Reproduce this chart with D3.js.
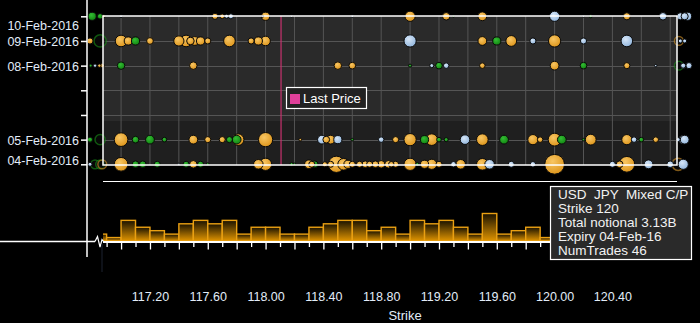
<!DOCTYPE html>
<html><head><meta charset="utf-8">
<script src="https://cdn.jsdelivr.net/npm/d3@7"></script>
<style>
html,body{margin:0;padding:0;background:#000;overflow:hidden}
svg{display:block}
text{font-family:"Liberation Sans",Arial,sans-serif}
</style>
</head><body>
<svg id="chart" width="700" height="323"></svg>
<script>
// ---------------- DATA ----------------
const tradeDates = ['2016-02-04','2016-02-05','2016-02-08','2016-02-09','2016-02-10'];
const strikeLabels = [117.2,117.6,118.0,118.4,118.8,119.2,119.6,120.0,120.4];
const lastPrice = 118.107;

// histogram: number of trades per 0.1 strike bucket (bucket start)
const histStrikes = [116.8,116.9,117.0,117.1,117.2,117.3,117.4,117.5,117.6,117.7,117.8,117.9,
  118.0,118.1,118.2,118.3,118.4,118.5,118.6,118.7,118.8,118.9,119.0,119.1,119.2,119.3,119.4,
  119.5,119.6,119.7,119.8,119.9];
const histCounts = [2,1,6,4,3,2,5,6,5,6,2,4,4,2,2,4,5,6,6,3,4,2,6,5,6,4,2,8,2,3,4,1];

// bubbles: [strike, total notional (USD m), type]  M = mixed C/P, C = call, P = put
const feb10 = [[116.80,532,'C'],[116.855,243,'C'],[116.88,75,'M'],[117.00,56,'P'],[117.65,300,'M'],
  [117.70,176,'M'],[117.73,133,'P'],[117.76,208,'P'],[117.98,33,'P'],[118.00,532,'M'],[118.18,33,'P'],
  [118.60,48,'P'],[119.00,832,'M'],[119.25,455,'M'],[119.30,33,'C'],[119.50,615,'M'],[120.00,832,'P'],
  [120.20,33,'P'],[120.25,75,'C'],[120.50,408,'M'],[120.75,455,'P'],[120.87,408,'P'],[120.90,408,'P'],
  [120.92,532,'P']];
const feb09 = [[116.785,300,'M'],[116.855,1198,'C'],[117.00,1081,'M'],[117.05,532,'M'],[117.10,532,'C'],
  [117.20,362,'M'],[117.40,832,'M'],[117.45,1081,'M'],[117.48,455,'M'],[117.51,615,'M'],[117.55,532,'M'],
  [117.60,300,'M'],[117.75,1081,'M'],[117.90,300,'M'],[117.95,532,'M'],[118.00,735,'M'],[119.00,1198,'P'],
  [119.50,615,'M'],[119.60,532,'C'],[119.70,935,'M'],[119.85,300,'P'],[120.00,1198,'M'],[120.20,300,'P'],
  [120.50,1081,'P'],[120.86,620,'M'],[120.87,133,'P'],[120.90,133,'P']];
const feb08 = [[116.79,75,'C'],[116.82,96,'P'],[116.85,96,'M'],[116.87,133,'M'],[117.00,455,'C'],
  [117.50,455,'M'],[118.50,455,'M'],[118.60,362,'M'],[119.00,75,'C'],[119.15,133,'P'],[119.20,362,'C'],
  [119.25,243,'P'],[119.50,243,'M'],[120.00,615,'M'],[120.20,362,'C'],[120.50,300,'M'],[120.70,48,'P'],
  [120.86,620,'C'],[120.89,208,'P'],[120.93,300,'P']];
const feb05 = [[116.785,208,'C'],[116.855,832,'C'],[117.00,1493,'M'],[117.10,362,'C'],[117.20,615,'C'],
  [117.30,176,'C'],[117.50,615,'M'],[117.60,300,'M'],[117.70,300,'M'],[117.75,300,'C'],[117.81,1081,'M'],
  [117.80,615,'C'],[118.00,1630,'M'],[118.24,56,'M'],[118.39,615,'P'],[118.42,362,'M'],[118.45,615,'M'],
  [118.50,532,'P'],[118.60,56,'C'],[118.80,243,'P'],[118.90,300,'M'],[119.00,1198,'M'],[119.10,532,'C'],
  [119.15,1081,'M'],[119.20,176,'C'],[119.25,133,'C'],[119.38,735,'P'],[119.50,1081,'M'],[119.65,615,'C'],
  [119.85,832,'M'],[119.90,243,'M'],[120.00,1320,'M'],[120.05,615,'C'],[120.20,56,'C'],[120.25,935,'M'],
  [120.50,832,'M'],[120.55,243,'P'],[120.60,176,'C'],[120.70,243,'M'],[120.855,133,'P'],[120.89,620,'P'],
  [120.90,620,'P']];
const feb04 = [[116.785,133,'P'],[116.82,620,'C'],[116.855,620,'C'],[116.87,620,'M'],[117.00,1493,'M'],
  [117.10,362,'C'],[117.15,362,'C'],[117.25,300,'C'],[117.40,48,'P'],[117.45,300,'C'],[117.50,455,'M'],
  [117.55,300,'C'],[117.60,75,'C'],[117.95,735,'M'],[118.00,1198,'M'],[118.18,96,'C'],[118.20,56,'C'],
  [118.30,615,'M'],[118.32,300,'M'],[118.34,362,'C'],[118.41,208,'M'],[118.45,300,'M'],[118.49,2129,'M'],
  [118.54,1081,'M'],[118.57,532,'M'],[118.60,300,'M'],[118.65,300,'M'],[118.69,362,'M'],[118.72,300,'M'],
  [118.76,362,'M'],[118.80,455,'M'],[118.85,455,'M'],[118.87,243,'M'],[118.90,300,'M'],[119.00,1198,'M'],
  [119.05,96,'C'],[119.10,532,'M'],[119.15,832,'M'],[119.20,300,'M'],[119.30,243,'P'],[119.35,735,'M'],
  [119.50,1081,'M'],[119.55,735,'P'],[119.70,300,'P'],[119.85,243,'P'],[120.00,3130,'M'],[120.40,300,'P'],
  [120.45,362,'M'],[120.50,1973,'M'],[120.65,615,'P'],[120.80,362,'P'],[120.855,1198,'M'],[120.89,832,'P']];
const bubbleRows = [['2016-02-10',feb10],['2016-02-09',feb09],['2016-02-08',feb08],['2016-02-05',feb05],['2016-02-04',feb04]];

const tipLines = ['USD  JPY  Mixed C/P','Strike 120','Total notional 3.13B','Expiry 04-Feb-16','NumTrades 46'];

// ---------------- LAYOUT ----------------
const W = 700, H = 323;
const panel = {left:103, right:677, top:16, bottom:165};
const axisX = 87;
const histBase = 241.5;

const svg = d3.select('#chart');
const parse = d3.utcParse('%Y-%m-%d');
const fmtDate = d3.utcFormat('%d-%b-%Y');

const x = d3.scaleLinear().domain([116.875, 120.847]).range([panel.left, panel.right]);
const y = d3.scaleUtc().domain([parse('2016-02-04'), parse('2016-02-10')]).range([164.3, 16.3]);
const r = d3.scaleSqrt().domain([0, 3130]).range([0, 9.9]);
const yh = d3.scaleLinear().domain([0, 8]).range([241, 213.5]);

const colors = {M:['#f8c663','#dc9318'], C:['#34bd34','#0f820f'], P:['#d6e6f7','#8eb3db']};
const strokeCols = {M:'#e9a32c', C:'#1c9a1c', P:'#a8c8e8'};

const defs = svg.append('defs');
Object.entries(colors).forEach(([k,c]) => {
  const g = defs.append('radialGradient').attr('id','g'+k).attr('cx','40%').attr('cy','35%').attr('r','70%');
  g.append('stop').attr('offset','0%').attr('stop-color',c[0]);
  g.append('stop').attr('offset','100%').attr('stop-color',c[1]);
});
const bg = defs.append('linearGradient').attr('id','barG').attr('x1',0).attr('y1',0).attr('x2',0).attr('y2',1);
bg.append('stop').attr('offset','0%').attr('stop-color','#1a1200');
bg.append('stop').attr('offset','100%').attr('stop-color','#e09400');
defs.append('clipPath').attr('id','histClip').append('rect')
  .attr('x',panel.left).attr('y',150).attr('width',panel.right-panel.left).attr('height',100);

svg.append('rect').attr('width',W).attr('height',H).attr('fill','#000');

// panel background
svg.append('rect').attr('x',panel.left).attr('y',panel.top).attr('width',panel.right-panel.left)
  .attr('height',121-panel.top).attr('fill','#2a2a2a');
svg.append('rect').attr('x',panel.left).attr('y',121).attr('width',panel.right-panel.left)
  .attr('height',panel.bottom-121).attr('fill','#1f1f1f');

// grid
const vGrid = d3.range(0, 20).map(i => +(117 + i*0.2).toFixed(1));
svg.append('g').selectAll('line').data(vGrid).join('line')
  .attr('x1',d=>x(d)).attr('x2',d=>x(d)).attr('y1',panel.top).attr('y2',panel.bottom)
  .attr('stroke','#555').attr('stroke-width',1);
const allDays = d3.utcDay.range(parse('2016-02-04'), d3.utcDay.offset(parse('2016-02-10'),1));
svg.append('g').selectAll('line').data(allDays.slice(1,-1)).join('line')
  .attr('x1',panel.left).attr('x2',panel.right).attr('y1',d=>Math.round(y(d))+0.5).attr('y2',d=>Math.round(y(d))+0.5)
  .attr('stroke','#555').attr('stroke-width',1);

// last price line
svg.append('line').attr('x1',x(lastPrice)).attr('x2',x(lastPrice)).attr('y1',panel.top).attr('y2',panel.bottom)
  .attr('stroke','#c8326e').attr('stroke-width',1.2);

// bubbles
const bubbles = [];
bubbleRows.forEach(([d, arr]) => arr.forEach(([s,n,t]) => bubbles.push({date:parse(d), s, n, t})));
bubbles.sort((a,b) => b.n - a.n);
const outside = d => d.s < x.domain()[0] || d.s > x.domain()[1];
const ring = d => outside(d) && d.t !== 'P' && d.n >= 600;
svg.append('g').selectAll('circle').data(bubbles).join('circle')
  .attr('cx',d=>x(d.s)).attr('cy',d=>y(d.date)).attr('r',d=>r(d.n))
  .attr('fill',d=> ring(d) ? '#0c0c0c' : `url(#g${d.t})`)
  .attr('fill-opacity',d=> ring(d) ? 0.6 : 1)
  .attr('stroke',d=> ring(d) ? strokeCols[d.t] : '#0a0a0a')
  .attr('stroke-opacity',d=> ring(d) ? 0.55 : 1)
  .attr('stroke-width',d=> ring(d) ? 1.5 : 1);

// panel border (on top)
svg.append('rect').attr('x',panel.left).attr('y',panel.top).attr('width',panel.right-panel.left)
  .attr('height',panel.bottom-panel.top).attr('fill','none').attr('stroke','#fff').attr('stroke-width',1.5);

// legend
const lg = svg.append('g').attr('transform','translate(286,87)');
lg.append('rect').attr('x',0.5).attr('y',0.5).attr('width',80).attr('height',21).attr('fill','#222').attr('stroke','#fff').attr('stroke-width',1.2);
lg.append('rect').attr('x',4).attr('y',7).attr('width',10).attr('height',10).attr('fill','#e0409a');
lg.append('text').attr('x',17).attr('y',16).attr('fill','#fff').attr('font-size',13).text('Last Price');

// left axis
svg.append('line').attr('x1',axisX).attr('x2',axisX).attr('y1',0).attr('y2',257).attr('stroke','#fff').attr('stroke-width',1.5);
const trade = new Set(tradeDates);
const yAxis = d3.axisLeft(y).tickValues(allDays).tickSize(6).tickPadding(2)
  .tickFormat(d => trade.has(d3.utcFormat('%Y-%m-%d')(d)) ? fmtDate(d) : '');
const ya = svg.append('g').attr('transform',`translate(${axisX},0)`).call(yAxis);
ya.select('.domain').remove();
ya.selectAll('line').attr('stroke','#fff').attr('stroke-width',1.5);
ya.selectAll('text').attr('fill','#e2ecf8').attr('font-size',12.5)
  .attr('font-family','"Liberation Sans",Arial,sans-serif')
  .attr('dy', d => { const yy = y(d); const c = Math.max(25, Math.min(159.5, yy)); return (c - yy + 4.5) + 'px'; });

// histogram
const hg = svg.append('g').attr('clip-path','url(#histClip)');
hg.selectAll('rect').data(histStrikes.map((s,i)=>({s, n:histCounts[i]}))).join('rect')
  .attr('x',d=>x(d.s)).attr('width',d=>x(d.s+0.1)-x(d.s))
  .attr('y',d=>yh(d.n)).attr('height',d=>yh(0)-yh(d.n))
  .attr('fill','url(#barG)').attr('stroke','#eaa012').attr('stroke-width',1.4);

// top line over histogram area
svg.append('line').attr('x1',panel.left).attr('x2',panel.right).attr('y1',181.5).attr('y2',181.5).attr('stroke','#fff').attr('stroke-width',1);

// baseline + break
svg.append('line').attr('x1',0).attr('x2',95).attr('y1',histBase).attr('y2',histBase).attr('stroke','#fff').attr('stroke-width',1.3);
svg.append('path').attr('d','M95,241.5 L97.5,236.5 L100,247 L102,239.5 L103.5,241.5').attr('fill','none').attr('stroke','#fff').attr('stroke-width',1.2);
svg.append('line').attr('x1',102).attr('x2',102).attr('y1',244).attr('y2',272).attr('stroke','#1c2230').attr('stroke-width',1);
svg.append('line').attr('x1',panel.left).attr('x2',panel.right).attr('y1',histBase+0.5).attr('y2',histBase+0.5).attr('stroke','#fff').attr('stroke-width',2);

const minor = d3.range(0, 40).map(i => +(116.9 + i*0.1).toFixed(1)).filter(v => v <= 120.8);
const xa = svg.append('g').attr('transform',`translate(0,${histBase+1})`)
  .call(d3.axisBottom(x).tickValues(minor).tickSize(5).tickFormat(''));
xa.select('.domain').remove();
xa.selectAll('.tick line').attr('stroke','#fff').attr('stroke-width',1.3)
  .attr('y2', d => Math.round(d*10) % 2 === 0 ? 7 : 4.5);

const xl = svg.append('g').attr('transform','translate(0,301)')
  .call(d3.axisBottom(x).tickValues(strikeLabels).tickSize(0).tickPadding(0).tickFormat(d3.format('.2f')));
xl.select('.domain').remove();
xl.selectAll('text').attr('fill','#e2ecf8').attr('font-size',12.5).attr('dy',0)
  .attr('font-family','"Liberation Sans",Arial,sans-serif');

svg.append('text').attr('x',405).attr('y',319.5).attr('text-anchor','middle').attr('fill','#e2ecf8')
  .attr('font-size',13).text('Strike');

// tooltip
const tp = svg.append('g').attr('transform','translate(550,186)');
tp.append('rect').attr('x',0.5).attr('y',0.5).attr('width',141).attr('height',73).attr('fill','#2a2a2a').attr('stroke','#fff').attr('stroke-width',1.2);
tp.selectAll('text').data(tipLines).join('text')
  .attr('x',8).attr('y',(d,i)=>13 + i*14).attr('fill','#f2f2f2').attr('font-size',13.5)
  .style('white-space','pre').attr('xml:space','preserve').text(d=>d);
</script>
</body></html>
